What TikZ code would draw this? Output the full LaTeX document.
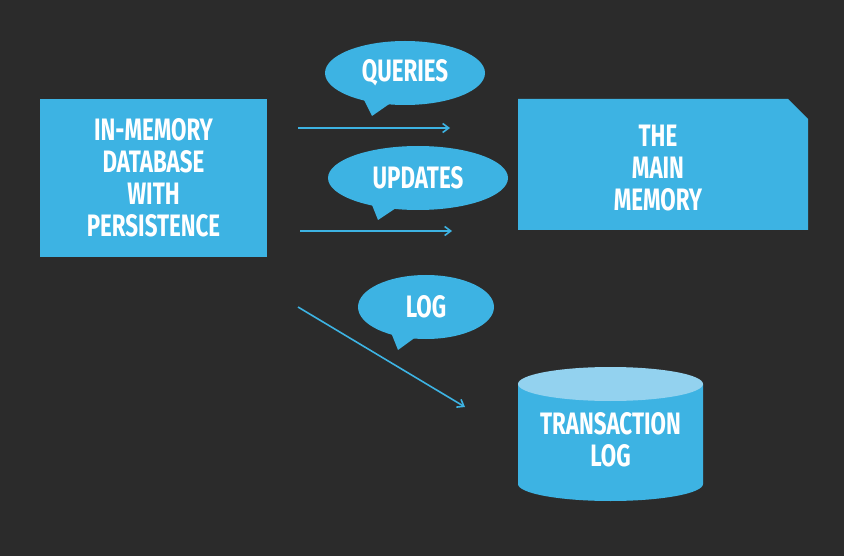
\documentclass[tikz,border=0pt]{standalone}
\usepackage{fontspec}
\setmainfont{Fira Sans}[FakeStretch=0.72]
\usetikzlibrary{arrows.meta}
\definecolor{bg}{HTML}{2B2B2B}
\definecolor{blu}{HTML}{3DB3E3}
\definecolor{blutop}{HTML}{93D2EF}
\tikzset{
 lbl/.style={text=white,font=\fontsize{31}{32}\selectfont\bfseries,align=center},
 conn/.style={draw=blu,line width=1.6pt,-{Straight Barb[length=6pt,width=9pt]}},
 bub/.style={fill=blu}
}
\begin{document}
\begin{tikzpicture}[x=1pt,y=-1pt]
\fill[bg] (0,0) rectangle (844,556);
\useasboundingbox (0,0) rectangle (844,556);
% left box
\fill[blu] (40,99) rectangle (267,257);
\node[lbl] (db) at (153.5,178) {IN-MEMORY\\DATABASE\\WITH\\PERSISTENCE};
% main memory
\fill[blu] (518,99) -- (788,99) -- (808,119) -- (808,230) -- (518,230) -- cycle;
\node[lbl] (mm) at (658,168) {THE\\MAIN\\MEMORY};
% cylinder
\fill[blu] (518,384) -- (518,484) arc[x radius=92.5,y radius=17,start angle=180,end angle=0] -- (703,384) -- cycle;
\fill[blutop] (610.5,384) ellipse[x radius=92.5,y radius=17];
\node[lbl] (tl) at (610.5,440) {TRANSACTION\\LOG};
% arrows
\coordinate (a1) at (298,128); \coordinate (b1) at (450,128);
\coordinate (a2) at (300,231); \coordinate (b2) at (452,231);
\coordinate (a3) at (298,307); \coordinate (b3) at (465,407);
\draw[conn] (a1) -- (b1);
\draw[conn] (a2) -- (b2);
\draw[conn] (a3) -- (b3);
% bubbles
\fill[bub] (405,73) ellipse[x radius=80,y radius=32];
\fill[bub] (362,96) -- (372,116) -- (395,100) -- cycle;
\node[lbl] (q) at (405,73) {QUERIES};
\fill[bub] (418,178) ellipse[x radius=90,y radius=32];
\fill[bub] (370,200) -- (378,220) -- (402,204) -- cycle;
\node[lbl] (u) at (418,178) {UPDATES};
\fill[bub] (426,307) ellipse[x radius=68,y radius=32];
\fill[bub] (390,330) -- (398,350) -- (420,334) -- cycle;
\node[lbl] (l) at (426,307) {LOG};
\end{tikzpicture}
\end{document}
